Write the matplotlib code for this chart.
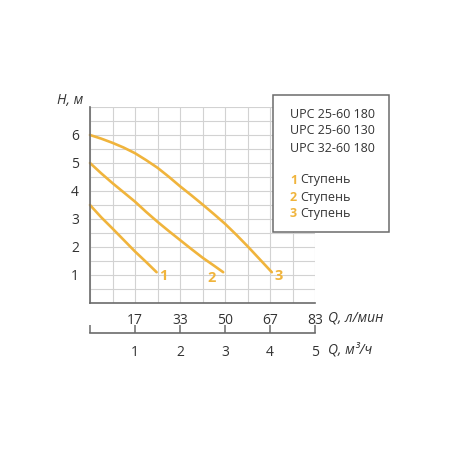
import matplotlib
matplotlib.use("Agg")
import matplotlib.pyplot as plt
from matplotlib.patches import Rectangle

plt.rcParams['font.family'] = ['Open Sans', 'DejaVu Sans']

# data (Q in m3/h, H in m)
q1 = [0.0, 0.25, 0.5, 0.75, 1.0, 1.25, 1.48]
h1 = [3.5, 3.06, 2.66, 2.25, 1.84, 1.46, 1.1]
q2 = [0.0, 0.25, 0.5, 0.75, 1.0, 1.25, 1.5, 1.75, 2.0, 2.25, 2.5, 2.75, 2.96]
h2 = [5.0, 4.63, 4.28, 3.95, 3.62, 3.25, 2.9, 2.57, 2.25, 1.93, 1.62, 1.34, 1.1]
q3 = [0.0, 0.25, 0.5, 0.75, 1.0, 1.25, 1.5, 1.75, 2.0, 2.25, 2.5, 2.75, 3.0,
      3.25, 3.5, 3.75, 4.04]
h3 = [6.0, 5.87, 5.72, 5.55, 5.35, 5.1, 4.83, 4.51, 4.17, 3.85, 3.52, 3.18, 2.83,
      2.44, 2.03, 1.6, 1.1]
curve_labels = ["1", "2", "3"]

y_ticks = [1, 2, 3, 4, 5, 6]
m3h_ticks = [1, 2, 3, 4, 5]
lmin_labels = ["17", "33", "50", "67", "83"]
legend_models = ["UPC 25-60 180", "UPC 25-60 130", "UPC 32-60 180"]
legend_steps = ["1", "2", "3"]
step_word = "Ступень"

ORANGE = "#F0B43C"
TEXT = "#333333"
SPINE = "#6b6b6b"
GRID = "#d2d2d2"

fig = plt.figure(figsize=(4.5, 4.5), dpi=100)
W = H = 450.0

def fx(px):
    return px / W

def fy(py):
    return 1 - py / H

ax = fig.add_axes([fx(90), fy(303), fx(315) - fx(90), fy(107) - fy(303)])
ax.set_xlim(0, 5)
ax.set_ylim(0, 7)

ax.set_xticks([i * 0.5 for i in range(11)], minor=True)
ax.set_yticks([i * 0.5 for i in range(15)], minor=True)
ax.set_yticks(y_ticks)
ax.set_yticklabels([str(v) for v in y_ticks])
ax.set_xticks(m3h_ticks)
ax.set_xticklabels(lmin_labels)
ax.grid(which='both', color=GRID, lw=0.8)
ax.set_axisbelow(True)
ax.tick_params(which='both', length=0)
ax.tick_params(axis='y', pad=8, labelsize=10, labelcolor=TEXT)
ax.tick_params(axis='x', pad=7, labelsize=10, labelcolor=TEXT)
for s in ['top', 'right']:
    ax.spines[s].set_visible(False)
for s in ['left', 'bottom']:
    ax.spines[s].set_color(SPINE)
    ax.spines[s].set_linewidth(1.2)

label_offsets = [(4.5, -3), (-8, -4), (5, -3)]
for q, h, lab, off in zip([q1, q2, q3], [h1, h2, h3], curve_labels, label_offsets):
    ax.plot(q, h, color=ORANGE, lw=1.9, solid_capstyle='round',
            solid_joinstyle='round', clip_on=False)
    ax.annotate(lab, (q[-1], h[-1]), xytext=off, textcoords='offset points',
                color=ORANGE, fontsize=10.5, fontweight='bold', ha='center', va='center')

fig.text(fx(83), fy(101), "H, м", ha='right', va='center',
         fontsize=10, style='italic', color=TEXT)

# second axis (m3/h)
ax2 = fig.add_axes([fx(90), fy(333), fx(315) - fx(90), 0.001])
ax2.set_xlim(0, 5)
ax2.set_ylim(0, 1)
ax2.set_yticks([])
ax2.set_xticks([0] + m3h_ticks)
ax2.set_xticklabels([""] + [str(v) for v in m3h_ticks])
ax2.tick_params(axis='x', direction='in', length=6, width=1.1, color=SPINE,
                pad=9, labelsize=10, labelcolor=TEXT)
for s in ['top', 'right', 'left']:
    ax2.spines[s].set_visible(False)
ax2.spines['bottom'].set_color(SPINE)
ax2.spines['bottom'].set_linewidth(1.2)
ax2.patch.set_visible(False)

fig.text(fx(328), fy(318), "Q, л/мин", ha='left', va='center', fontsize=10,
         style='italic', color=TEXT)
fig.text(fx(328), fy(350), "Q, м³/ч", ha='left', va='center', fontsize=10,
         style='italic', color=TEXT)

# legend box
box = Rectangle((fx(273), fy(232)), fx(389) - fx(273), fy(95) - fy(232),
                transform=fig.transFigure, facecolor='white', edgecolor=SPINE,
                lw=1.1, zorder=5)
fig.patches.append(box)
for i, m in enumerate(legend_models):
    fig.text(fx(290), fy(114 + 17 * i), m, ha='left', va='center', fontsize=9,
             color=TEXT, zorder=6)
for i, s in enumerate(legend_steps):
    fig.text(fx(290), fy(180 + 17 * i), s, ha='left', va='center', fontsize=9,
             color=ORANGE, fontweight='bold', zorder=6)
    fig.text(fx(300), fy(180 + 17 * i), step_word, ha='left', va='center', fontsize=9,
             color=TEXT, zorder=6)

fig.savefig("out.png", dpi=100)
